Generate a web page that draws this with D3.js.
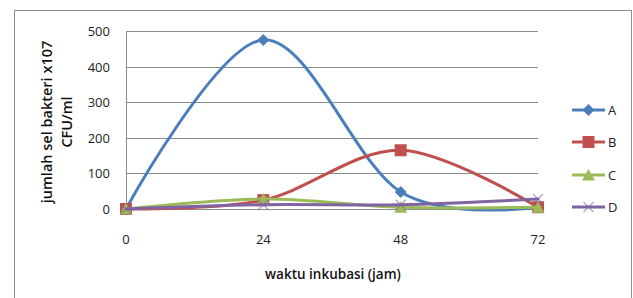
<!DOCTYPE html>
<html>
<head>
<meta charset="utf-8">
<script src="https://cdn.jsdelivr.net/npm/d3@7"></script>
<style>
  body { margin: 0; background: #fff; }
  text { font-family: "Open Sans", "Noto Sans", sans-serif; }
</style>
</head>
<body>
<div id="chart"></div>
<script>
// DATA
const times = ["0", "24", "48", "72"];
const seriesNames = ["A", "B", "C", "D"];
const valuesA = [0, 475, 48, 5];
const valuesB = [0, 25, 165, 5];
const valuesC = [0, 28, 5, 5];
const valuesD = [0, 12, 12, 28];
const yTicks = [0, 100, 200, 300, 400, 500];

const W = 633, H = 298;
const plot = { left: 126, right: 538, top: 31, bottom: 209 };

const svg = d3.select("#chart").append("svg")
    .attr("width", W).attr("height", H);

// outer frame (bottom edge falls outside the picture)
svg.append("rect")
    .attr("x", 14.5).attr("y", 10.5)
    .attr("width", 617).attr("height", 300)
    .attr("fill", "none").attr("stroke", "#8c8c8c").attr("stroke-width", 1);

const x = d3.scalePoint().domain(times).range([plot.left, plot.right]);
const y = d3.scaleLinear().domain([0, 500]).range([plot.bottom, plot.top]);

// GRID
svg.append("g").selectAll("line")
    .data(yTicks)
    .enter().append("line")
    .attr("x1", plot.left).attr("x2", plot.right)
    .attr("y1", d => Math.round(y(d)) + 0.5).attr("y2", d => Math.round(y(d)) + 0.5)
    .attr("stroke", "#8c8c8c").attr("stroke-width", 1);

// Y axis line
svg.append("line")
    .attr("x1", plot.left + 0.5).attr("x2", plot.left + 0.5)
    .attr("y1", plot.top).attr("y2", plot.bottom)
    .attr("stroke", "#8c8c8c");

// Y tick labels
svg.append("g").selectAll("text")
    .data(yTicks)
    .enter().append("text")
    .attr("x", 110).attr("y", d => y(d) + 5)
    .attr("text-anchor", "end")
    .attr("font-size", "13px").attr("fill", "#222")
    .text(d => d);

// X tick labels
svg.append("g").selectAll("text")
    .data(times)
    .enter().append("text")
    .attr("x", d => x(d)).attr("y", 244)
    .attr("text-anchor", "middle")
    .attr("font-size", "13px").attr("fill", "#222")
    .text(d => d);

// AXIS TITLES
svg.append("text")
    .attr("x", 333).attr("y", 279)
    .attr("text-anchor", "middle")
    .attr("font-size", "13.5px").attr("font-weight", "600").attr("fill", "#111")
    .text("waktu inkubasi (jam)");

const yTitle = svg.append("text")
    .attr("transform", "translate(52,122) rotate(-90)")
    .attr("text-anchor", "middle")
    .attr("font-size", "14.5px").attr("font-weight", "600").attr("fill", "#111");
yTitle.append("tspan").attr("x", 0).attr("dy", 0).text("jumlah sel bakteri x107");
yTitle.append("tspan").attr("x", 0).attr("dy", 20).text("CFU/ml");

// SERIES
const colors = ["#4a7ebb", "#c0504d", "#9bbb59", "#8064a2"];
const allValues = [valuesA, valuesB, valuesC, valuesD];
const series = seriesNames.map((name, i) => ({
    name: name,
    color: colors[i],
    points: allValues[i].map((v, j) => ({ t: times[j], v: v }))
}));

const line = d3.line()
    .x(d => x(d.t))
    .y(d => y(d.v))
    .curve(d3.curveCatmullRom.alpha(0));

function marker(g, name, color) {
    if (name === "A") {
        g.append("path").attr("d", "M0,-6L6,0L0,6L-6,0Z").attr("fill", color);
    } else if (name === "B") {
        g.append("rect").attr("x", -6).attr("y", -6).attr("width", 12).attr("height", 12).attr("fill", color);
    } else if (name === "C") {
        g.append("path").attr("d", "M0,-6L6.5,5.5L-6.5,5.5Z").attr("fill", color);
    } else {
        g.append("path").attr("d", "M-5,-5L5,5M-5,5L5,-5")
            .attr("stroke", color).attr("stroke-width", 1.2).attr("fill", "none").attr("opacity", 0.6);
    }
}

// draw in order so A (blue) lies under the others like the source
series.forEach(s => {
    svg.append("path")
        .datum(s.points)
        .attr("d", line)
        .attr("fill", "none")
        .attr("stroke", s.color)
        .attr("stroke-width", 3)
        .attr("stroke-linecap", "round");
    s.points.forEach(p => {
        const g = svg.append("g").attr("transform", `translate(${x(p.t)},${y(p.v)})`);
        marker(g, s.name, s.color);
    });
});

// LEGEND
const legendY = [110, 142, 175, 207];
series.forEach((s, i) => {
    const g = svg.append("g").attr("transform", `translate(572,${legendY[i]})`);
    g.append("line").attr("x1", 0).attr("x2", 33).attr("y1", 0).attr("y2", 0)
        .attr("stroke", s.color).attr("stroke-width", 3);
    const m = g.append("g").attr("transform", "translate(16.5,0)");
    marker(m, s.name, s.color);
    g.append("text").attr("x", 36).attr("y", 5)
        .attr("font-size", "13px").attr("fill", "#222")
        .text(s.name);
});
</script>
</body>
</html>
